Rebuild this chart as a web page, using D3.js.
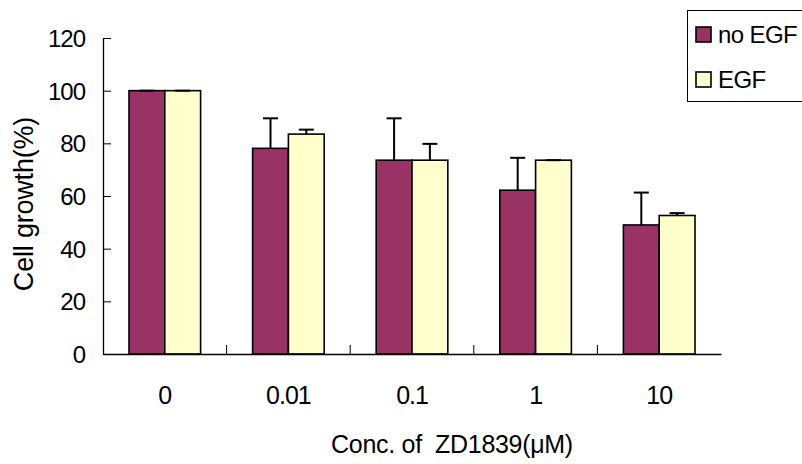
<!DOCTYPE html>
<html>
<head>
<meta charset="utf-8">
<script src="https://cdn.jsdelivr.net/npm/d3@7"></script>
<style>
  body { margin: 0; background: #fff; }
  text { font-family: "Liberation Sans", Arial, sans-serif; fill: #000; }
</style>
</head>
<body>
<div id="chart"></div>
<script>
const width = 802, height = 464
const margin = { top: 38, right: 81, bottom: 110, left: 103 }

// data
const concentrations = ["0", "0.01", "0.1", "1", "10"]
const seriesNames = ["no EGF", "EGF"]
const noEgf = [100, 78.1, 73.6, 62.2, 49.0]
const noEgfErr = [0, 11.4, 15.9, 12.3, 12.3]
const egf = [100, 83.5, 73.6, 73.6, 52.6]
const egfErr = [0, 1.7, 6.2, 0, 0.9]
const yTicks = [0, 20, 40, 60, 80, 100, 120]
const colors = ["#993366", "#ffffcc"]

const rows = concentrations.map((c, i) => ({
  conc: c,
  values: [
    { key: seriesNames[0], value: noEgf[i], err: noEgfErr[i] },
    { key: seriesNames[1], value: egf[i], err: egfErr[i] }
  ]
}))

const svg = d3.select("#chart").append("svg")
  .attr("width", width)
  .attr("height", height)

const x0 = d3.scaleBand()
  .domain(concentrations)
  .range([margin.left, width - margin.right])
  .paddingInner(0).paddingOuter(0)

const x1 = d3.scaleBand()
  .domain(seriesNames)
  .range([26, x0.bandwidth() - 26])

const y = d3.scaleLinear()
  .domain([0, 120])
  .range([height - margin.bottom, margin.top])

const color = d3.scaleOrdinal().domain(seriesNames).range(colors)

// bars
const groups = svg.append("g").selectAll("g")
  .data(rows)
  .join("g")
  .attr("transform", d => `translate(${x0(d.conc)},0)`)

groups.selectAll("rect")
  .data(d => d.values)
  .join("rect")
  .attr("x", d => x1(d.key))
  .attr("width", x1.bandwidth())
  .attr("y", d => y(d.value))
  .attr("height", d => y(0) - y(d.value))
  .attr("fill", d => color(d.key))
  .attr("stroke", "#000")
  .attr("stroke-width", 1.6)

// error bars (upper only)
const err = groups.selectAll(".err")
  .data(d => d.values)
  .join("g")
  .attr("class", "err")
  .attr("stroke", "#000")
  .attr("stroke-width", 2)

err.append("line")
  .attr("x1", d => x1(d.key) + x1.bandwidth() / 2)
  .attr("x2", d => x1(d.key) + x1.bandwidth() / 2)
  .attr("y1", d => y(d.value))
  .attr("y2", d => y(d.value + d.err))

err.append("line")
  .attr("x1", d => x1(d.key) + x1.bandwidth() / 2 - 7.5)
  .attr("x2", d => x1(d.key) + x1.bandwidth() / 2 + 7.5)
  .attr("y1", d => y(d.value + d.err))
  .attr("y2", d => y(d.value + d.err))

// y axis
const yAxis = svg.append("g")
  .attr("transform", `translate(${margin.left},0)`)
  .call(d3.axisLeft(y).tickValues(yTicks).tickSize(-8).tickSizeOuter(0).tickPadding(18))
yAxis.select(".domain").attr("stroke", "#000").attr("stroke-width", 1.3)
yAxis.selectAll(".tick line").attr("stroke", "#000").attr("stroke-width", 1)
yAxis.selectAll(".tick text")
  .style("font-size", "24px")
  .style("letter-spacing", "-1px")
  .attr("dy", "0.36em")

// x axis: ticks sit between groups
const xAxis = svg.append("g")
  .attr("transform", `translate(0,${y(0)})`)
  .call(d3.axisBottom(x0).tickSize(0).tickSizeOuter(0).tickPadding(32))
xAxis.select(".domain").attr("stroke", "#000").attr("stroke-width", 1.3)
xAxis.selectAll(".tick text")
  .style("font-size", "25px")
  .style("letter-spacing", "-1px")

xAxis.selectAll(".sep")
  .data(concentrations.slice(1))
  .join("line")
  .attr("class", "sep")
  .attr("x1", d => x0(d))
  .attr("x2", d => x0(d))
  .attr("y1", 0)
  .attr("y2", -9)
  .attr("stroke", "#000")
  .attr("stroke-width", 1)

// axis titles
svg.append("text")
  .attr("transform", `translate(33,${(y(0) + y(120)) / 2 + 8}) rotate(-90)`)
  .attr("text-anchor", "middle")
  .style("font-size", "27px")
  .style("letter-spacing", "-0.2px")
  .text("Cell growth(%)")

svg.append("text")
  .attr("x", 452)
  .attr("y", 453)
  .attr("text-anchor", "middle")
  .style("font-size", "25px")
  .style("letter-spacing", "-0.3px")
  .style("white-space", "pre")
  .text("Conc. of  ZD1839(\u03bcM)")

// legend
const legend = svg.append("g")
legend.append("rect")
  .attr("x", 687.5).attr("y", 10.5)
  .attr("width", 130).attr("height", 91)
  .attr("fill", "#fff")
  .attr("stroke", "#000")
  .attr("stroke-width", 1)

const items = legend.selectAll(".item")
  .data(seriesNames)
  .join("g")
  .attr("class", "item")
  .attr("transform", (d, i) => `translate(696,${27 + i * 45})`)

items.append("rect")
  .attr("width", 15).attr("height", 15)
  .attr("fill", d => color(d))
  .attr("stroke", "#000")
  .attr("stroke-width", 1.6)

items.append("text")
  .attr("x", 22)
  .attr("y", 16)
  .style("font-size", "24px")
  .style("letter-spacing", "-0.6px")
  .text(d => d)
</script>
</body>
</html>
